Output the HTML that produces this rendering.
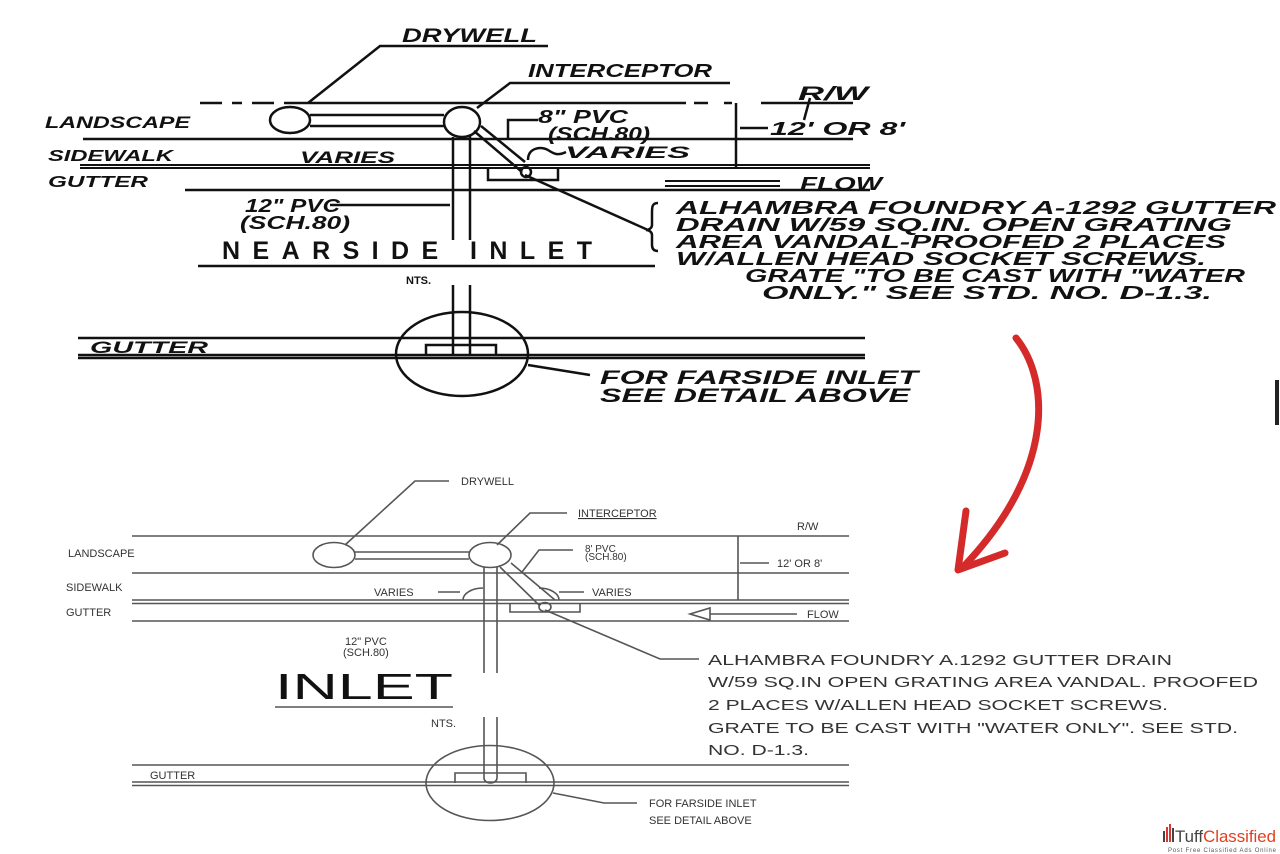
<!DOCTYPE html>
<html><head><meta charset="utf-8"><style>
html,body{margin:0;padding:0;background:#fff;}
svg{display:block}
.hw{font-family:"Liberation Sans",sans-serif;font-style:italic;font-weight:bold;fill:#111}
.cl{font-family:"Liberation Sans",sans-serif;fill:#333}
</style></head><body>
<svg width="1280" height="854" viewBox="0 0 1280 854" xmlns="http://www.w3.org/2000/svg">
<rect width="1280" height="854" fill="#fff"/>
<!-- ================= TOP (hand drawn) ================= -->
<g stroke="#111" stroke-width="2.5" fill="none">
  <path d="M200 103h22 M232 103h10 M252 103h22 M284 103h402 M694 103h14 M724 103h8 M761 103h92" />
  <path d="M83 139h770" />
  <path d="M80 165h790 M80 168h790" stroke-width="2"/>
  <path d="M185 190h685" />
  <ellipse cx="290" cy="120" rx="20" ry="13"/>
  <ellipse cx="462" cy="122" rx="18" ry="15"/>
  <path d="M310 115h134 M310 126h134" />
  <path d="M453 137v103 M470 135v105 M453 285v70 M470 285v70" />
  <path d="M474 131l48 41 M481 126l44 36" />
  <circle cx="526" cy="172" r="5"/>
  <path d="M488 168v12h70v-12" />
  <path d="M308 103l72 -57h168" />
  <path d="M477 108l33 -25h220" />
  <path d="M736 103v64 M740 128h28" />
  <path d="M508 140v-20h30" />
  <path d="M528 160c0-12 12-14 20-10 M548 150c6 4 10 6 18 2" />
  <path d="M330 205h120" />
  <path d="M665 181h115 M665 186h115" stroke-width="2"/>
  <path d="M525 175l123 55" />
  <path d="M658 203c-6 0-6 4-6 10v12c0 3-3 5-6 5c3 0 6 2 6 5v10c0 4 2 6 6 6" />
  <path d="M198 266h457" />
  <path d="M78 338h787 M78 355h787 M78 358h787" />
  <ellipse cx="462" cy="354" rx="66" ry="42"/>
  <path d="M426 355v-10h70v10" />
  <path d="M528 365l62 10" />
  <path d="M810 98l-6 22" />
</g>
<text class="hw" x="402" y="42" font-size="19" textLength="135" lengthAdjust="spacingAndGlyphs">DRYWELL</text>
<text class="hw" x="528" y="77" font-size="18" textLength="184" lengthAdjust="spacingAndGlyphs">INTERCEPTOR</text>
<text class="hw" x="798" y="100" font-size="19" textLength="70" lengthAdjust="spacingAndGlyphs">R/W</text>
<text class="hw" x="45" y="128" font-size="17" textLength="145" lengthAdjust="spacingAndGlyphs">LANDSCAPE</text>
<text class="hw" x="48" y="161" font-size="16" textLength="125" lengthAdjust="spacingAndGlyphs">SIDEWALK</text>
<text class="hw" x="48" y="187" font-size="16" textLength="100" lengthAdjust="spacingAndGlyphs">GUTTER</text>
<text class="hw" x="538" y="123" font-size="18" textLength="90" lengthAdjust="spacingAndGlyphs">8" PVC</text>
<text class="hw" x="548" y="140" font-size="18" textLength="102" lengthAdjust="spacingAndGlyphs">(SCH.80)</text>
<text class="hw" x="770" y="135" font-size="18" textLength="135" lengthAdjust="spacingAndGlyphs">12' OR 8'</text>
<text class="hw" x="300" y="163" font-size="17" textLength="95" lengthAdjust="spacingAndGlyphs">VARIES</text>
<text class="hw" x="565" y="158" font-size="17" textLength="125" lengthAdjust="spacingAndGlyphs">VARIES</text>
<text class="hw" x="800" y="190" font-size="18" textLength="82" lengthAdjust="spacingAndGlyphs">FLOW</text>
<text class="hw" x="245" y="212" font-size="18" textLength="95" lengthAdjust="spacingAndGlyphs">12" PVC</text>
<text class="hw" x="240" y="229" font-size="18" textLength="110" lengthAdjust="spacingAndGlyphs">(SCH.80)</text>
<text x="222" y="259" font-family="Liberation Sans,sans-serif" font-weight="bold" font-size="25" fill="#111" textLength="370" lengthAdjust="spacing">NEARSIDE INLET</text>
<text x="406" y="284" font-family="Liberation Sans,sans-serif" font-weight="bold" font-size="11" fill="#111">NTS.</text>
<g class="hw" font-size="18">
<text x="676" y="214" textLength="600" lengthAdjust="spacingAndGlyphs">ALHAMBRA FOUNDRY A-1292 GUTTER</text>
<text x="676" y="231" textLength="556" lengthAdjust="spacingAndGlyphs">DRAIN W/59 SQ.IN. OPEN GRATING</text>
<text x="676" y="248" textLength="550" lengthAdjust="spacingAndGlyphs">AREA VANDAL-PROOFED 2 PLACES</text>
<text x="676" y="265" textLength="530" lengthAdjust="spacingAndGlyphs">W/ALLEN HEAD SOCKET SCREWS.</text>
<text x="745" y="282" textLength="500" lengthAdjust="spacingAndGlyphs">GRATE "TO BE CAST WITH "WATER</text>
<text x="762" y="299" textLength="450" lengthAdjust="spacingAndGlyphs">ONLY." SEE STD. NO. D-1.3.</text>
</g>
<text class="hw" x="90" y="353" font-size="17" textLength="118" lengthAdjust="spacingAndGlyphs">GUTTER</text>
<text class="hw" x="600" y="384" font-size="19" textLength="318" lengthAdjust="spacingAndGlyphs">FOR FARSIDE INLET</text>
<text class="hw" x="600" y="402" font-size="19" textLength="310" lengthAdjust="spacingAndGlyphs">SEE DETAIL ABOVE</text>
<rect x="1275" y="380" width="4" height="45" fill="#222"/>

<!-- ================= RED ARROW ================= -->
<path d="M1016 338 C1050 380 1055 470 965 565" stroke="#d42a2a" stroke-width="7" fill="none" stroke-linecap="round"/>
<path d="M966 511 L958 570 L1005 553" stroke="#d42a2a" stroke-width="7" fill="none" stroke-linecap="round" stroke-linejoin="round"/>

<!-- ================= BOTTOM (CAD) ================= -->
<g stroke="#555" stroke-width="1.6" fill="none">
  <path d="M132 536h717 M132 573h717 M132 600h717 M132 603.5h717 M132 621h717" />
  <ellipse cx="334" cy="555" rx="21" ry="12.5"/>
  <ellipse cx="490" cy="555" rx="21" ry="12.5"/>
  <path d="M355 552h114 M355 559h114" />
  <path d="M484 567v106 M497 567v106 M484 717v61 M497 717v61" />
  <path d="M484 778a6.5 5 0 0 0 13 0" />
  <path d="M500 567l39 38 M511 563l44 37" />
  <ellipse cx="545" cy="607" rx="6" ry="4.5"/>
  <path d="M510 603v9h70v-9" />
  <path d="M463 600a20 12 0 0 1 20 -12 M539 588a20 12 0 0 1 20 12" />
  <path d="M438 592h22 M559 592h25" />
  <path d="M738 536v64 M740 563h29" />
  <path d="M710 614h87 M690 614l20 -6v12z" />
  <path d="M345 545l70 -64h34" />
  <path d="M497 545l33 -32h37" />
  <path d="M522 572l17 -22h34" />
  <path d="M545 610l115 49h39" />
  <path d="M275 707h178" />
  <path d="M132 765h717 M132 782h717 M132 785.5h717" />
  <ellipse cx="490" cy="783" rx="64" ry="37.5"/>
  <path d="M455 783v-10h71v10" />
  <path d="M553 793l51 10h33" />
</g>
<g class="cl" font-size="11">
<text x="461" y="485">DRYWELL</text>
<text x="578" y="517" text-decoration="underline">INTERCEPTOR</text>
<text x="797" y="530">R/W</text>
<text x="68" y="557">LANDSCAPE</text>
<text x="585" y="552" font-size="10">8' PVC</text>
<text x="585" y="560" font-size="10">(SCH.80)</text>
<text x="777" y="567">12' OR 8'</text>
<text x="66" y="591">SIDEWALK</text>
<text x="374" y="596">VARIES</text>
<text x="592" y="596">VARIES</text>
<text x="66" y="616">GUTTER</text>
<text x="807" y="618">FLOW</text>
<text x="345" y="645">12" PVC</text>
<text x="343" y="656">(SCH.80)</text>
<text x="431" y="727">NTS.</text>
<text x="150" y="779">GUTTER</text>
<text x="649" y="807">FOR FARSIDE INLET</text>
<text x="649" y="824">SEE DETAIL ABOVE</text>
</g>
<text x="275" y="699" font-family="Liberation Sans,sans-serif" font-size="36" fill="#111" textLength="178" lengthAdjust="spacingAndGlyphs">INLET</text>
<g class="cl" font-size="15">
<text x="708" y="665" textLength="464" lengthAdjust="spacingAndGlyphs">ALHAMBRA FOUNDRY A.1292 GUTTER DRAIN</text>
<text x="708" y="687" textLength="550" lengthAdjust="spacingAndGlyphs">W/59 SQ.IN OPEN GRATING AREA VANDAL. PROOFED</text>
<text x="708" y="710" textLength="460" lengthAdjust="spacingAndGlyphs">2 PLACES W/ALLEN HEAD SOCKET SCREWS.</text>
<text x="708" y="733" textLength="530" lengthAdjust="spacingAndGlyphs">GRATE TO BE CAST WITH "WATER ONLY". SEE STD.</text>
<text x="708" y="755" textLength="101" lengthAdjust="spacingAndGlyphs">NO. D-1.3.</text>
</g>

<!-- ================= LOGO ================= -->
<g fill="#444">
  <rect x="1163" y="831" width="2" height="11"/>
  <rect x="1166" y="827" width="2" height="15" fill="#d33"/>
  <rect x="1169" y="824" width="2" height="18" fill="#d33"/>
  <rect x="1172" y="828" width="2" height="14"/>
</g>
<text x="1175" y="842" font-family="Liberation Sans,sans-serif" font-size="17" fill="#444" textLength="101" lengthAdjust="spacingAndGlyphs">Tuff<tspan fill="#e0401f">Classified</tspan></text>
<text x="1168" y="852" font-family="Liberation Sans,sans-serif" font-size="6" fill="#555" textLength="108" lengthAdjust="spacing">Post Free Classified Ads Online</text>
</svg>
</body></html>
